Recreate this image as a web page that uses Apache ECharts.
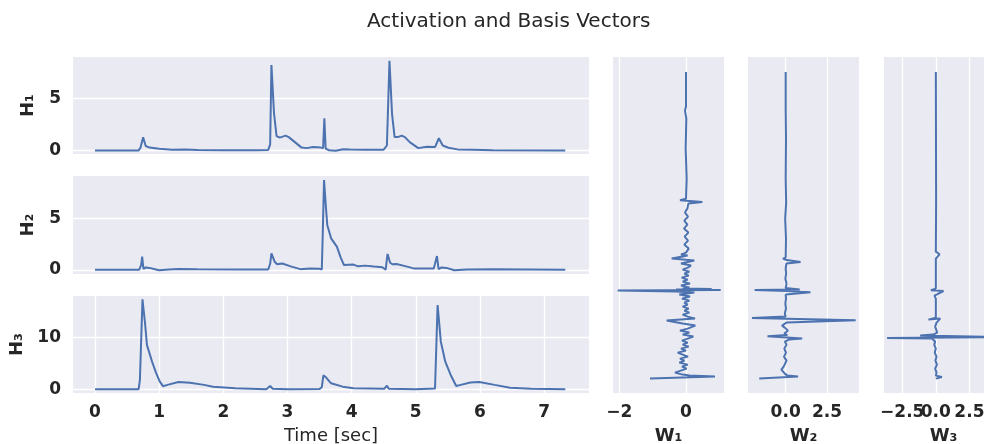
<!DOCTYPE html>
<html><head><meta charset="utf-8">
<script src="https://cdn.jsdelivr.net/npm/echarts@6/dist/echarts.min.js"></script>
<style>html,body{margin:0;padding:0;background:#fff}#c{width:984px;height:444px}</style>
</head><body><div id="c"></div><script>
// ---- data (time [sec], activation) ----
const h1 = [[0,0.03],[0.68,0.03],[0.71,0.3],[0.75,1.28],[0.79,0.45],[0.85,0.3],[1.0,0.18],[1.2,0.1],[1.4,0.12],[1.6,0.07],[2.0,0.04],[2.5,0.04],[2.70,0.08],[2.73,0.6],[2.75,8.18],[2.79,3.6],[2.83,1.4],[2.88,1.25],[2.97,1.44],[3.02,1.3],[3.12,0.8],[3.22,0.3],[3.30,0.25],[3.40,0.35],[3.52,0.3],[3.555,0.25],[3.575,3.09],[3.595,0.2],[3.65,0.05],[3.75,0.0],[3.87,0.15],[3.98,0.12],[4.2,0.1],[4.50,0.1],[4.55,0.5],[4.59,8.58],[4.63,3.5],[4.67,1.3],[4.72,1.3],[4.78,1.44],[4.83,1.3],[4.91,0.8],[5.04,0.25],[5.17,0.38],[5.30,0.35],[5.33,0.3],[5.36,1.19],[5.39,1.0],[5.42,0.5],[5.45,0.6],[5.51,0.29],[5.65,0.13],[5.9,0.1],[6.2,0.04],[7.33,0.03]];
const h2 = [[0,0.03],[0.69,0.03],[0.72,0.5],[0.735,1.29],[0.755,0.1],[0.79,0.25],[0.85,0.2],[0.95,0.05],[1.0,-0.03],[1.15,0.05],[1.3,0.1],[1.6,0.08],[2.2,0.05],[2.70,0.05],[2.73,0.6],[2.75,1.6],[2.80,0.8],[2.84,0.55],[2.92,0.62],[3.05,0.35],[3.2,0.08],[3.35,0.15],[3.50,0.12],[3.535,0.05],[3.55,3.5],[3.57,8.7],[3.60,6.0],[3.62,4.35],[3.68,3.06],[3.77,2.26],[3.83,1.2],[3.88,0.48],[4.03,0.52],[4.10,0.35],[4.21,0.42],[4.35,0.33],[4.48,0.26],[4.53,0.02],[4.56,1.55],[4.60,0.7],[4.64,0.55],[4.70,0.58],[4.85,0.35],[4.98,0.13],[5.1,0.15],[5.28,0.13],[5.31,0.3],[5.33,1.35],[5.355,0.08],[5.40,0.25],[5.48,0.2],[5.60,-0.03],[5.8,0.05],[6.2,0.06],[7.33,0.03]];
const h3 = [[0,0.02],[0.68,0.02],[0.70,1.8],[0.74,17.3],[0.78,12.7],[0.81,8.5],[0.89,5.3],[0.95,3.2],[1.01,1.47],[1.06,0.6],[1.13,0.85],[1.3,1.41],[1.48,1.28],[1.7,0.85],[1.84,0.51],[2.19,0.19],[2.67,0.02],[2.73,0.64],[2.77,0.1],[3.0,0.02],[3.50,0.05],[3.535,0.4],[3.56,2.69],[3.60,2.3],[3.68,1.15],[3.86,0.51],[4.03,0.19],[4.51,0.12],[4.55,0.7],[4.58,0.1],[5.0,0.03],[5.30,0.15],[5.34,16.2],[5.39,9.2],[5.46,5.3],[5.55,2.6],[5.63,0.64],[5.70,0.85],[5.85,1.3],[5.99,1.41],[6.23,0.85],[6.47,0.32],[6.8,0.1],[7.33,0.02]];
// ---- basis vectors (weight, frequency bin) ----
const w1 = [[-1.08,0],[0.87,2],[0.1,3],[-0.1,4],[-0.33,6],[-0.3,8],[0.02,10],[-0.12,12],[0.05,14],[-0.2,16],[-0.05,18],[-0.18,20],[0.06,22],[-0.1,24],[-0.25,26],[0.0,28],[-0.15,30],[0.08,32],[-0.1,34],[0.05,36],[-0.12,38],[0.05,40],[0.22,42],[-0.1,44],[0.1,46],[-0.18,48],[0.05,50],[0.28,53],[-0.1,55],[-0.58,58],[0.27,60],[0.05,62],[-0.1,64],[0.1,66],[-0.05,68],[0.08,70],[-0.1,72],[0.05,74],[-0.05,76],[0.1,78],[-0.12,80],[0.12,82],[-0.2,84],[0.25,86],[-0.3,87],[-2.05,88],[1.04,88.5],[-0.3,89],[0.77,89.5],[-0.1,90],[0.1,91],[-0.15,93],[0.12,95],[-0.1,97],[0.05,99],[-0.13,101],[0.08,103],[-0.05,105],[0.1,107],[-0.1,109],[0.05,111],[0.15,113],[-0.15,115],[0.25,118],[-0.43,120],[-0.1,122],[0.05,123],[-0.15,124],[0.0,126],[0.08,130],[-0.05,134],[0.06,138],[-0.04,142],[0.07,146],[-0.06,150],[0.04,154],[-0.05,158],[0.06,162],[-0.03,166],[0.04,170],[0.07,175],[0.49,176.6],[-0.18,178.3],[0.0,180],[0.02,200],[-0.01,230],[0.01,260],[-0.03,268],[0.0,272],[0.0,306.6]];
const w2 = [[-1.6,0],[0.75,2],[0.1,3],[-0.05,5],[-0.26,9],[-0.12,12],[-0.05,14],[0.05,18],[-0.1,22],[0.02,26],[-0.08,30],[0.05,34],[-0.05,37],[0.2,39],[1.0,40],[-1.1,42.3],[0.1,43.5],[-0.08,45],[0.14,48],[-0.05,51],[-0.22,53],[0.05,56],[4.24,58.3],[-2.04,60.5],[0.0,62],[-0.05,65],[0.02,70],[-0.02,75],[0.02,80],[0.0,84],[1.5,86.3],[0.9,86.8],[0.1,87.5],[-1.88,88.5],[0.85,89],[0.0,90.5],[0.05,95],[-0.02,100],[0.03,105],[0.0,110],[0.04,115],[0.9,116.6],[0.05,118.5],[-0.16,120],[0.0,121],[0.02,140],[-0.03,160],[0.03,176],[0.0,200],[0.02,240],[0.0,270],[0.0,306.6]];
const w3 = [[0.0,0],[0.45,1.6],[0.0,3],[0.05,6],[-0.05,10],[0.08,14],[-0.03,18],[0.05,22],[-0.08,26],[0.0,30],[-0.12,34],[-0.05,37],[-0.3,40],[-3.63,40.6],[4.8,41.6],[-1.17,43],[-0.2,44],[0.1,46],[0.12,48],[-0.05,52],[0.05,56],[0.32,60],[-0.55,59],[0.0,61],[0.0,80],[-0.1,83],[0.0,85],[0.57,87.6],[-0.37,88.3],[0.0,90],[0.0,115],[-0.12,116.6],[0.0,120],[0.27,124.3],[0.0,127],[0.02,176],[0.0,306.6]];
// ---- tick labels ----
const timeTicks = [0,1,2,3,4,5,6,7];
const h1Ticks = [0,5], h2Ticks = [0,5], h3Ticks = [0,10];
const w1Ticks = [-2,0], w2Ticks = [0,2.5], w3Ticks = [-2.5,0,2.5];
const w1Labels = ['\u22122','0'], w2Labels = ['0.0','2.5'], w3Labels = ['\u22122.5','0.0','2.5'];
const titleText = 'Activation and Basis Vectors';
const hNames = ['H\u2081','H\u2082','H\u2083'];
const wNames = ['W\u2081','W\u2082','W\u2083'];

const FONT = 'DejaVu Sans';
const TXT = '#262626';
const BG = '#EAEAF2';
const LINE = '#4C72B0';
const tickFont = {fontFamily:FONT, fontWeight:'bold', fontSize:17, color:TXT};
const split = {show:true, lineStyle:{color:'#ffffff', width:1.3}};

const gridBox = [
  {left:73, top:57, width:516, height:97},
  {left:73, top:176, width:516, height:98},
  {left:73, top:296, width:516, height:97},
  {left:613, top:57, width:111, height:336},
  {left:748, top:57, width:111, height:336},
  {left:884, top:57, width:119, height:336}
];
const grid = gridBox.map(g => Object.assign({show:true, backgroundColor:BG, borderWidth:0, containLabel:false, outerBoundsMode:'none'}, g));

function hx(i){
  const last = i === 2;
  return {gridIndex:i, type:'value', min:-0.343, max:7.70,
    axisLine:{show:false}, axisTick:{show:false, customValues:timeTicks},
    axisLabel:{show:last, customValues:timeTicks, margin:11, showMinLabel:true, showMaxLabel:true, ...tickFont},
    splitLine: last ? split : {show:false},
    name: last ? 'Time [sec]' : '', nameLocation:'middle', nameGap:34,
    nameTextStyle:{fontFamily:FONT, fontSize:18, color:TXT}};
}
function hy(i, mn, mx, ticks){
  return {gridIndex:i, type:'value', min:mn, max:mx,
    axisLine:{show:false}, axisTick:{show:false, customValues:ticks},
    axisLabel:{customValues:ticks, margin:12, showMinLabel:true, showMaxLabel:true, ...tickFont},
    splitLine:split, name:hNames[i], nameLocation:'middle', nameGap:36, nameRotate:90,
    nameTextStyle:{fontFamily:FONT, fontWeight:'bold', fontSize:18, color:TXT}};
}
function labelFor(ticks, labels){
  return v => { const k = ticks.findIndex(t => Math.abs(t - v) < 1e-9); return k >= 0 ? labels[k] : ''; };
}
function wx(i, mn, mx, ticks, labels, name){
  return {gridIndex:i, type:'value', min:mn, max:mx,
    axisLine:{show:false}, axisTick:{show:false, customValues:ticks},
    axisLabel:{customValues:ticks, margin:11, showMinLabel:true, showMaxLabel:true, hideOverlap:false, ...tickFont,
      formatter: labelFor(ticks, labels)},
    splitLine:split, name:name, nameLocation:'middle', nameGap:34,
    nameTextStyle:{fontFamily:FONT, fontWeight:'bold', fontSize:18, color:TXT}};
}
function wy(i){
  return {gridIndex:i, type:'value', min:-14.4, max:321.6,
    axisLine:{show:false}, axisTick:{show:false}, axisLabel:{show:false}, splitLine:{show:false}};
}

// W3: outer ticks on its main axis, centre "0.0" on a twin axis so the overlapping labels both show (as in the reference)
const w3Outer = [w3Ticks[0], w3Ticks[2]], w3OuterLabels = [w3Labels[0], w3Labels[2]];
const w3Mid = [w3Ticks[1]], w3MidLabels = [w3Labels[1]];
const w3Main = wx(5, -3.86, 5.0, w3Outer, w3OuterLabels, wNames[2]);
const w3Twin = {gridIndex:5, type:'value', min:-3.86, max:5.0, position:'bottom', offset:0,
  axisLine:{show:false}, axisTick:{show:false, customValues:w3Mid},
  axisLabel:{customValues:w3Mid, margin:11, showMinLabel:true, showMaxLabel:true, ...tickFont, formatter: labelFor(w3Mid, w3MidLabels)},
  splitLine:split};

const xAxis = [hx(0), hx(1), hx(2),
  wx(3, -2.19, 1.14, w1Ticks, w1Labels, wNames[0]),
  wx(4, -2.28, 4.44, w2Ticks, w2Labels, wNames[1]),
  w3Main, w3Twin];
const yAxis = [hy(0, -0.31, 8.94, h1Ticks), hy(1, -0.39, 9.09, h2Ticks), hy(2, -0.71, 17.94, h3Ticks), wy(3), wy(4), wy(5)];

const all = [h1, h2, h3, w1, w2, w3];
const series = all.map((d, i) => ({type:'line', xAxisIndex:i, yAxisIndex:i, data:d,
  showSymbol:false, symbol:'none', clip:true, lineStyle:{color:LINE, width:2}, emphasis:{disabled:true}, z:5}));

const chart = echarts.init(document.getElementById('c'), null, {renderer:'canvas'});
chart.setOption({
  animation:false, backgroundColor:'#ffffff',
  title:{text:titleText, left:362, top:7, textStyle:{fontFamily:FONT, fontWeight:'normal', fontSize:20, color:TXT}},
  grid, xAxis, yAxis, series
});
</script></body></html>
